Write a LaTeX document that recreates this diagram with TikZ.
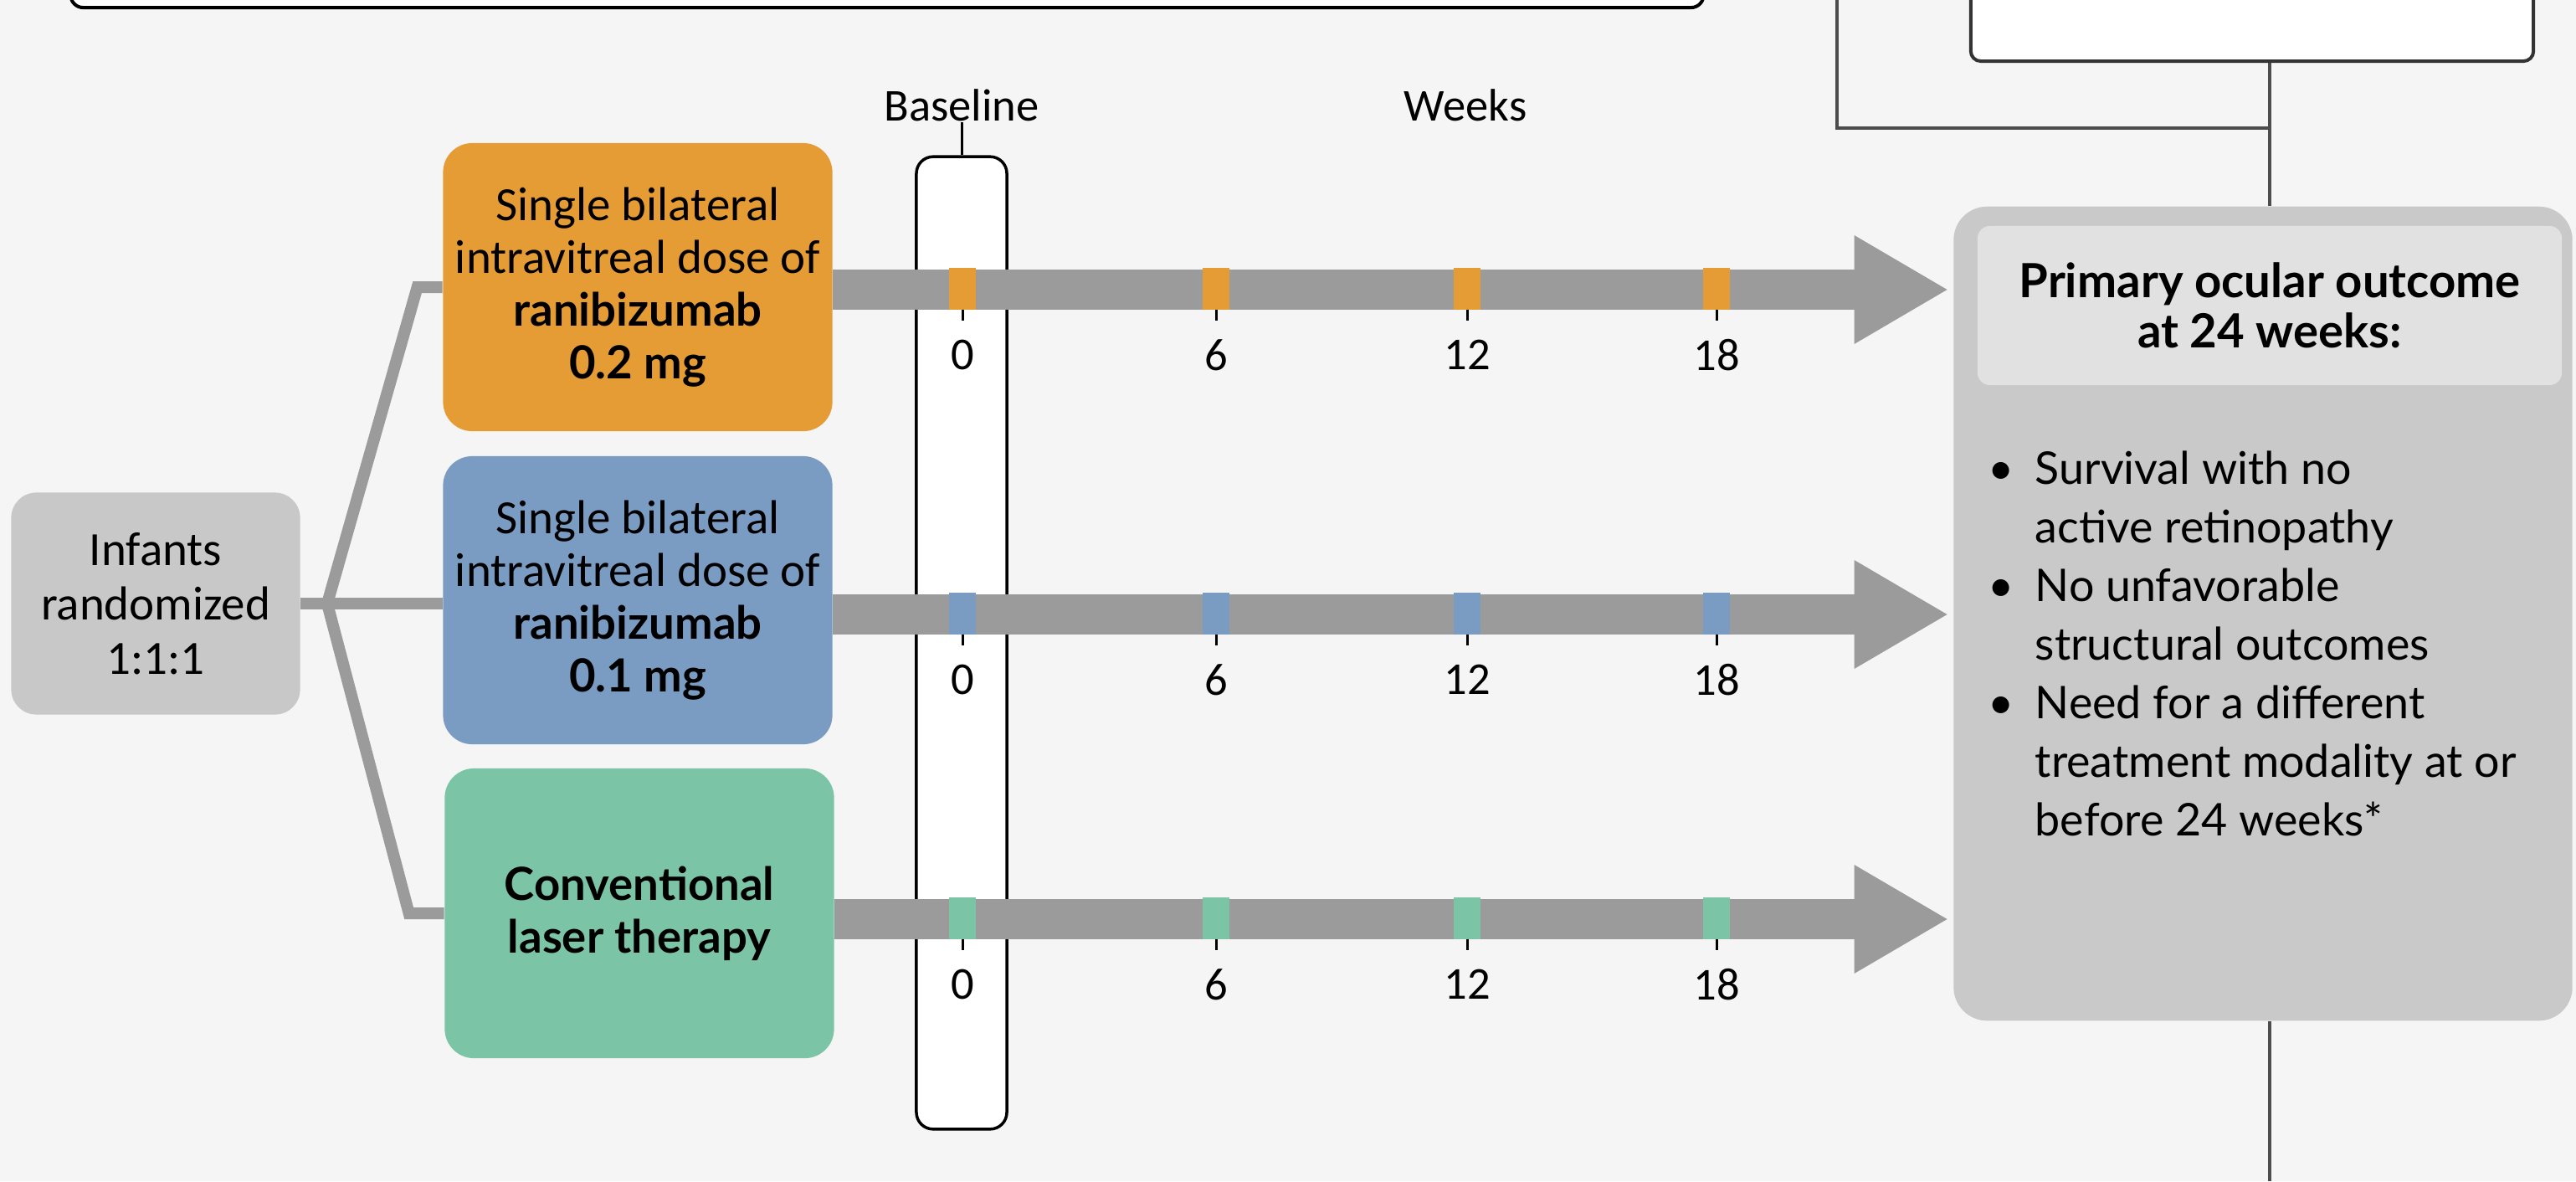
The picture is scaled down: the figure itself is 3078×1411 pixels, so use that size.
\documentclass[tikz,border=0pt]{standalone}
\usepackage{fontspec}
\usepackage{tikz}
\usetikzlibrary{arrows.meta}
\setmainfont{Carlito}
\newfontfamily\latofont{Lato}
\newcommand{\boldlato}{\latofont\bfseries\fontsize{15.5}{17.9}\selectfont}
\definecolor{armorange}{RGB}{230,156,52}
\definecolor{armblue}{RGB}{122,156,195}
\definecolor{armgreen}{RGB}{123,196,166}
\definecolor{bargray}{RGB}{155,155,155}
\definecolor{infgray}{RGB}{200,200,200}
\definecolor{outgray}{RGB}{201,201,201}
\definecolor{headgray}{RGB}{225,225,225}
\definecolor{paper}{RGB}{245,245,245}

\begin{document}
\begin{tikzpicture}[x=0.01cm,y=-0.01cm,
  armbox/.style={rounded corners=3.5mm,minimum width=4.65cm,minimum height=3.44cm,inner sep=0pt,align=center,font=\fontsize{16.2}{17.9}\selectfont},
  fanline/.style={line width=1.4mm,draw=bargray},
  bar/.style={line width=4.8mm,draw=bargray,-{Triangle[length=11.1mm,width=13mm,line width=0pt]},shorten >=0.7mm},
  link/.style={line width=0.4mm,draw=black!70},
  wk/.style={inner sep=0pt,font=\fontsize{15.5}{18}\selectfont}]
  \useasboundingbox (0,0) rectangle (3078,1411);
  \clip (0,0) rectangle (3078,1411);
  \fill[paper] (0,0) rectangle (3078,1411);
  \node[draw=black,line width=0.4mm,fill=white,rounded corners=1.5mm,minimum width=19.5cm,minimum height=2cm] (intro) at (1060,-91) {};
  \node[draw=black!80,line width=0.4mm,fill=white,rounded corners=1.2mm,minimum width=6.72cm,minimum height=2.2cm] (outro) at (2691,-37) {};
  \coordinate (bracket) at (2195,0);
  \coordinate (join) at (2712,153);
  \coordinate (foot) at (2712,1411);
  \draw[link] (bracket) |- (join);
  \node[fill=outgray,rounded corners=4mm,minimum width=7.39cm,minimum height=9.72cm,inner sep=0pt] (outcome) at (2704,733) {};
  \draw[link] (outro.south -| join) -- (outcome.north -| join);
  \draw[link] (outcome.south -| join) -- (foot);
  \node[fill=infgray,rounded corners=3mm,minimum width=3.45cm,minimum height=2.65cm,inner sep=0pt,align=center,font=\fontsize{16.2}{18.5}\selectfont] (infants) at (186,721) {Infants\\randomized\\1:1:1};
  \node[armbox,fill=armorange] (arm1) at (762,343) {Single bilateral\\intravitreal dose of\\{\boldlato ranibizumab}\\{\boldlato 0.2 mg}};
  \node[armbox,fill=armblue] (arm2) at (762,717) {Single bilateral\\intravitreal dose of\\{\boldlato ranibizumab}\\{\boldlato 0.1 mg}};
  \node[armbox,fill=armgreen,minimum height=3.46cm] (arm3) at (764,1091) {{\boldlato Conventional}\\{\boldlato laser therapy}};
  \coordinate (fork) at (391,721);
  \draw[fanline] (infants.east) -- (arm2.west |- infants.east);
  \draw[fanline] (fork) -- ([xshift=-3mm]arm1.west) -- (arm1.west);
  \draw[fanline] (fork) -- ([xshift=-4.2mm]arm3.west) -- (arm3.west);
  \node[draw=black,line width=0.35mm,fill=white,rounded corners=2mm,minimum width=1.08cm,minimum height=11.61cm,inner sep=0pt] (basecol) at (1149,768) {};
  \node[wk] (blabel) at (1149,126) {Baseline};
  \node[wk] (weeks) at (1751,126) {Weeks};
  \draw[line width=0.3mm] (blabel.south) -- (basecol.north);
  \coordinate (row1) at (0,346);
  \coordinate (row2) at (0,734);
  \coordinate (row3) at (0,1098);
  \draw[bar] (arm1.east |- row1) -- (outcome.west |- row1);
  \draw[bar] (arm2.east |- row2) -- (outcome.west |- row2);
  \draw[bar] (arm3.east |- row3) -- (outcome.west |- row3);
  \foreach \r/\yy/\c in {1/346/armorange,2/734/armblue,3/1098/armgreen}
    \foreach \w/\x in {0/1150,6/1453,12/1753,18/2051} {
      \fill[\c] (\x,\yy) ++(-16,-26) rectangle ++(32,50);
      \draw[line width=0.3mm] (\x,\yy) ++(0,24) -- ++(0,13);
      \path (\x,\yy) ++(0,78) node[wk] (w\r-\w) {\w};
    }
  \node[fill=headgray,rounded corners=1.5mm,minimum width=6.98cm,minimum height=1.9cm,align=center,font=\latofont\bfseries\fontsize{16}{17.1}\selectfont] (ohead) at (2712,365) {Primary ocular outcome\\at 24 weeks:};
  \node[anchor=north west,inner sep=0pt,align=left,font=\latofont\fontsize{15.3}{19.9}\selectfont] (olist) at (2375,538)
    {\makebox[5.6mm][l]{\textbullet}Survival with no\\\hspace*{5.6mm}active retinopathy\\
     \makebox[5.6mm][l]{\textbullet}No unfavorable\\\hspace*{5.6mm}structural outcomes\\
     \makebox[5.6mm][l]{\textbullet}Need for a different\\\hspace*{5.6mm}treatment modality at or\\\hspace*{5.6mm}before 24 weeks*};
\end{tikzpicture}
\end{document}
